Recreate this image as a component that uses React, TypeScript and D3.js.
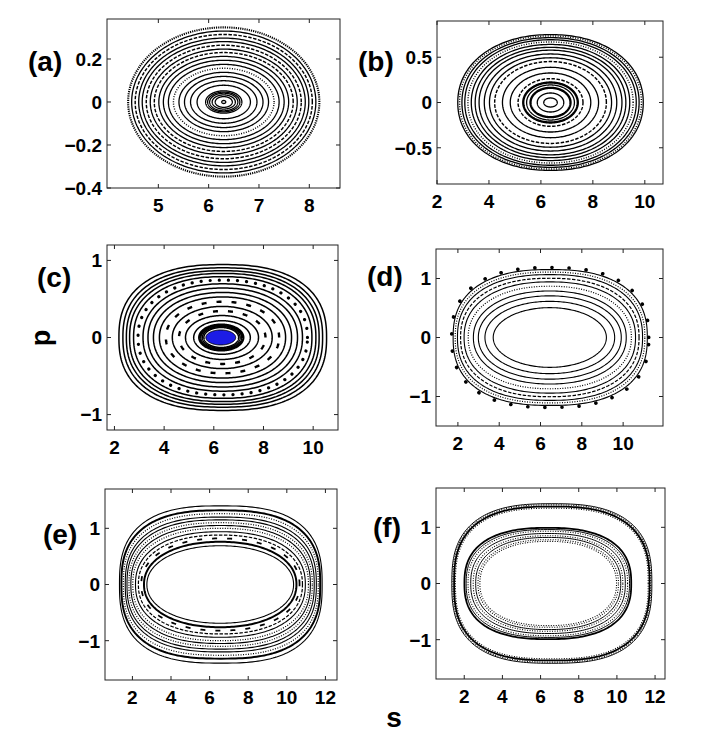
import React from "react";
import * as d3 from "d3";

// Each orbit: [centre s, half-width in s, half-height in p, squareness exponent, line style]
type Ring = [number, number, number, number, string];

const ringsA: Ring[] = [
  [6.30, 0.04, 0.007, 2, "solid"],
  [6.30, 0.17, 0.025, 2, "solid"],
  [6.30, 0.23, 0.033, 2, "solid"],
  [6.30, 0.28, 0.041, 2, "solid"],
  [6.30, 0.32, 0.046, 2, "solid"],
  [6.30, 0.36, 0.052, 2, "solid"],
  [6.30, 0.53, 0.078, 2, "solid"],
  [6.30, 0.66, 0.099, 2, "solid"],
  [6.30, 0.78, 0.119, 2, "solid"],
  [6.30, 0.89, 0.138, 2, "solid"],
  [6.30, 1.00, 0.157, 2, "dot"],
  [6.30, 1.10, 0.175, 2, "solid"],
  [6.30, 1.20, 0.194, 2, "solid"],
  [6.30, 1.29, 0.212, 2, "solid"],
  [6.30, 1.38, 0.230, 2, "dash"],
  [6.30, 1.46, 0.246, 2, "solid"],
  [6.30, 1.54, 0.264, 2, "dash"],
  [6.30, 1.62, 0.281, 2, "solid"],
  [6.30, 1.69, 0.297, 2, "solid"],
  [6.30, 1.76, 0.314, 2, "dash"],
  [6.30, 1.83, 0.330, 2, "solid"],
  [6.30, 1.90, 0.347, 2, "thickdot"],
];

const ringsB: Ring[] = [
  [6.37, 0.26, 0.050, 2, "solid"],
  [6.37, 0.51, 0.105, 2, "solid"],
  [6.37, 0.77, 0.162, 2, "thick"],
  [6.37, 0.92, 0.194, 2, "solid"],
  [6.37, 1.05, 0.221, 2, "thick"],
  [6.37, 1.25, 0.263, 2, "dash"],
  [6.37, 1.55, 0.326, 2, "solid"],
  [6.37, 1.85, 0.389, 2, "solid"],
  [6.37, 2.15, 0.452, 2.02, "dash"],
  [6.37, 2.35, 0.494, 2.03, "solid"],
  [6.37, 2.55, 0.536, 2.04, "solid"],
  [6.37, 2.75, 0.578, 2.05, "solid"],
  [6.37, 2.90, 0.609, 2.06, "solid"],
  [6.37, 3.05, 0.641, 2.07, "solid"],
  [6.37, 3.18, 0.668, 2.08, "dot"],
  [6.37, 3.30, 0.693, 2.09, "solid"],
  [6.37, 3.41, 0.716, 2.1, "solid"],
  [6.37, 3.50, 0.735, 2.11, "dot"],
  [6.37, 3.57, 0.750, 2.12, "solid"],
];

const ringsC: Ring[] = [
  [6.30, 0.70, 0.130, 2, "solid"],
  [6.30, 0.76, 0.142, 2, "solid"],
  [6.30, 0.82, 0.153, 2, "solid"],
  [6.30, 0.88, 0.165, 2, "thick"],
  [6.33, 1.14, 0.218, 2, "solid"],
  [6.33, 1.47, 0.285, 2.02, "solid"],
  [6.34, 1.74, 0.343, 2.04, "island"],
  [6.34, 2.01, 0.403, 2.06, "solid"],
  [6.35, 2.28, 0.464, 2.08, "island"],
  [6.35, 2.54, 0.526, 2.1, "solid"],
  [6.35, 2.78, 0.584, 2.13, "solid"],
  [6.36, 3.01, 0.642, 2.16, "solid"],
  [6.36, 3.21, 0.696, 2.2, "solid"],
  [6.36, 3.41, 0.744, 2.24, "beads"],
  [6.36, 3.59, 0.789, 2.28, "solid"],
  [6.36, 3.75, 0.831, 2.32, "solid"],
  [6.36, 3.88, 0.866, 2.36, "solid"],
  [6.36, 4.02, 0.904, 2.4, "solid"],
  [6.36, 4.18, 0.946, 2.45, "solid"],
];
// blue chaotic core in (c): [centre s, half-width, half-height]
const blueCoreC: [number, number, number] = [6.28, 0.6, 0.097];

const ringsD: Ring[] = [
  [6.45, 2.74, 0.506, 2.0, "solid"],
  [6.45, 3.14, 0.613, 2.05, "solid"],
  [6.45, 3.46, 0.706, 2.1, "solid"],
  [6.45, 3.70, 0.788, 2.15, "solid"],
  [6.45, 3.95, 0.869, 2.2, "dot"],
  [6.45, 4.15, 0.943, 2.25, "solid"],
  [6.45, 4.32, 1.004, 2.3, "dash"],
  [6.46, 4.48, 1.066, 2.36, "solid"],
  [6.46, 4.59, 1.108, 2.4, "dot"],
  [6.47, 4.70, 1.151, 2.45, "solid"],
  [6.47, 4.77, 1.185, 2.5, "bigbeads"],
];

const ringsE: Ring[] = [
  [6.55, 3.80, 0.69, 2.1, "solid"],
  [6.55, 3.95, 0.76, 2.15, "thick"],
  [6.56, 4.10, 0.82, 2.2, "island"],
  [6.56, 4.25, 0.88, 2.25, "dash"],
  [6.56, 4.40, 0.94, 2.3, "solid"],
  [6.57, 4.55, 1.00, 2.35, "dot"],
  [6.57, 4.65, 1.05, 2.4, "solid"],
  [6.57, 4.75, 1.10, 2.45, "dot"],
  [6.57, 4.85, 1.15, 2.5, "solid"],
  [6.58, 4.95, 1.20, 2.55, "solid"],
  [6.58, 5.05, 1.26, 2.6, "dot"],
  [6.58, 5.15, 1.32, 2.65, "thick"],
  [6.58, 5.25, 1.40, 2.7, "solid"],
];

const ringsF: Ring[] = [
  [6.59, 5.24, 1.42, 2.7, "solid"],
  [6.59, 5.18, 1.40, 2.7, "dot"],
  [6.59, 5.12, 1.37, 2.7, "thick"],
  [6.59, 5.05, 1.34, 2.7, "dot"],
  [6.38, 4.37, 0.99, 2.5, "thick"],
  [6.38, 4.28, 0.96, 2.45, "solid"],
  [6.38, 4.18, 0.93, 2.42, "dot"],
  [6.39, 4.05, 0.89, 2.4, "solid"],
  [6.39, 3.92, 0.85, 2.37, "dot"],
  [6.40, 3.80, 0.82, 2.34, "solid"],
  [6.40, 3.68, 0.78, 2.3, "dot"],
  [6.40, 3.58, 0.75, 2.28, "dot"],
];

const xTicksA = [5, 6, 7, 8];
const yTicksA = [-0.4, -0.2, 0, 0.2];
const xTicksB = [2, 4, 6, 8, 10];
const yTicksB = [-0.5, 0, 0.5];
const xTicksC = [2, 4, 6, 8, 10];
const yTicksC = [-1, 0, 1];
const xTicksD = [2, 4, 6, 8, 10, 12];
const yTicksD = [-1, 0, 1];
const xTicksE = [2, 4, 6, 8, 10, 12];
const yTicksE = [-1, 0, 1];
const xTicksF = [2, 4, 6, 8, 10, 12];
const yTicksF = [-1, 0, 1];

const domainsX = [[3.98, 8.61], [2, 10.7], [1.7, 11], [0.94, 11.93], [0.58, 12.6], [0.52, 12.52]];
const domainsY = [[-0.4, 0.386], [-0.9, 0.9], [-1.2, 1.2], [-1.5, 1.5], [-1.7, 1.7], [-1.7, 1.7]];
const panelLabels = ["(a)", "(b)", "(c)", "(d)", "(e)", "(f)"];

const FONT = "'Liberation Sans', Arial, Helvetica, sans-serif";

// layout (pixels)
const layout = [
  { x: [107, 340], y: [19, 188], lx: 28, ly: 71, sw: 1.3 },
  { x: [437, 663], y: [21, 184], lx: 358, ly: 71, sw: 1.3 },
  { x: [107, 338], y: [245, 430], lx: 37, ly: 287, sw: 1.5 },
  { x: [436, 663], y: [249, 426], lx: 367, ly: 286, sw: 1.1 },
  { x: [105, 337], y: [489, 680], lx: 43, ly: 544, sw: 1.1 },
  { x: [436, 665], y: [488, 679], lx: 373, ly: 537, sw: 1.0 },
];
const allRings = [ringsA, ringsB, ringsC, ringsD, ringsE, ringsF];
const allXT = [xTicksA, xTicksB, xTicksC, xTicksD, xTicksE, xTicksF];
const allYT = [yTicksA, yTicksB, yTicksC, yTicksD, yTicksE, yTicksF];

const angles = d3.range(0, 360, 1.5).map((d) => (d * Math.PI) / 180);

function ringPoints(cx: number, rx: number, ry: number, n: number): [number, number][] {
  const e = 2 / n;
  return angles.map((t) => {
    const c = Math.cos(t);
    const s = Math.sin(t);
    return [cx + rx * Math.sign(c) * Math.pow(Math.abs(c), e), ry * Math.sign(s) * Math.pow(Math.abs(s), e)];
  });
}

function styleFor(style: string, sw: number): any {
  switch (style) {
    case "thick":
      return { strokeWidth: sw * 1.8 };
    case "dot":
      return { strokeWidth: sw * 1.1, strokeDasharray: "1 1.5" };
    case "thickdot":
      return { strokeWidth: sw * 1.6, strokeDasharray: "1.2 1" };
    case "dash":
      return { strokeWidth: sw * 1.1, strokeDasharray: "3.5 1.5" };
    case "island":
      return { strokeWidth: sw * 1.6, strokeDasharray: "5 10" };
    case "beads":
      return { strokeWidth: 3.2, strokeDasharray: "0.1 9", strokeLinecap: "round" };
    case "bigbeads":
      return { strokeWidth: 3.6, strokeDasharray: "0.1 17", strokeLinecap: "round" };
    default:
      return { strokeWidth: sw };
  }
}

const fmt = (v: number) => (v === 0 ? "0" : String(v).replace("-", "\u2212"));

function Panel({ i }: { i: number }) {
  const L = layout[i];
  const sx = d3.scaleLinear().domain(domainsX[i]).range(L.x);
  const sy = d3.scaleLinear().domain(domainsY[i]).range([L.y[1], L.y[0]]);
  const line = d3
    .line<[number, number]>()
    .x((d) => sx(d[0]))
    .y((d) => sy(d[1]))
    .curve(d3.curveLinearClosed);
  const [x0, x1] = L.x;
  const [y0, y1] = L.y;
  const tl = 4;
  return (
    <g>
      {i === 2 && (
        <path
          d={line(ringPoints(blueCoreC[0], blueCoreC[1], blueCoreC[2], 2)) || ""}
          fill="#1c1ce6"
          stroke="#000"
          strokeWidth={1}
        />
      )}
      {allRings[i].map((r, k) => (
        <path
          key={k}
          d={line(ringPoints(r[0], r[1], r[2], r[3])) || ""}
          fill="none"
          stroke="#000"
          {...styleFor(r[4], L.sw)}
        />
      ))}
      <rect x={x0} y={y0} width={x1 - x0} height={y1 - y0} fill="none" stroke="#222" strokeWidth={1} />
      {allXT[i]
        .filter((v) => sx(v) >= x0 - 0.5 && sx(v) <= x1 + 0.5)
        .map((v) => (
          <g key={"x" + v}>
            <line x1={sx(v)} x2={sx(v)} y1={y1} y2={y1 - tl} stroke="#222" />
            <line x1={sx(v)} x2={sx(v)} y1={y0} y2={y0 + tl} stroke="#222" />
            {sx(v) < x1 - 3 && (
              <text x={sx(v)} y={y1 + 24} textAnchor="middle" fontSize={19} fontWeight="bold" fontFamily={FONT}>
                {fmt(v)}
              </text>
            )}
          </g>
        ))}
      {allYT[i].map((v) => (
        <g key={"y" + v}>
          <line x1={x0} x2={x0 + tl} y1={sy(v)} y2={sy(v)} stroke="#222" />
          <line x1={x1} x2={x1 - tl} y1={sy(v)} y2={sy(v)} stroke="#222" />
          <text x={x0 - 5} y={sy(v)} dy="0.36em" textAnchor="end" fontSize={19} fontWeight="bold" fontFamily={FONT}>
            {fmt(v)}
          </text>
        </g>
      ))}
      <text x={L.lx} y={L.ly} fontSize={28} fontWeight="bold" fontFamily={FONT}>
        {panelLabels[i]}
      </text>
    </g>
  );
}

export default function App() {
  return (
    <svg
      width={709}
      height={756}
      viewBox="0 0 709 756"
      style={{ position: "absolute", left: 0, top: 0, background: "#fff" }}
    >
      <rect width={709} height={756} fill="#fff" />
      {[0, 1, 2, 3, 4, 5].map((i) => (
        <Panel key={i} i={i} />
      ))}
      <text
        transform="translate(50,338) rotate(-90)"
        textAnchor="middle"
        fontSize={27}
        fontWeight="bold"
        fontFamily={FONT}
      >
        p
      </text>
      <text x={394} y={727} textAnchor="middle" fontSize={28} fontWeight="bold" fontFamily={FONT}>
        s
      </text>
    </svg>
  );
}
